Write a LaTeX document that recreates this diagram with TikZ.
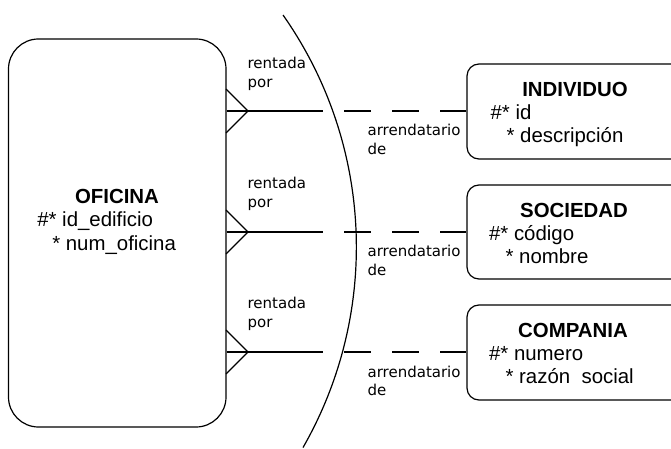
\documentclass[tikz,border=0pt]{standalone}
\usepackage{fontspec}
\newfontfamily\entfont{Liberation Sans}
\newfontfamily\labfont{DejaVu Sans}
\begin{document}
\begin{tikzpicture}[x=1pt,y=-1pt,
  line width=1.2pt,
  entbox/.style={draw, line width=1.2pt, rounded corners=12pt, minimum width=216pt, minimum height=95pt, inner sep=0pt},
  ttl/.style={font=\entfont\bfseries\fontsize{20.4}{24}\selectfont, anchor=base, inner sep=0pt},
  attr/.style={font=\entfont\fontsize{20.4}{24}\selectfont, anchor=base west, inner sep=0pt},
  lab/.style={font=\labfont\fontsize{15}{19}\selectfont, anchor=base west, inner sep=0pt},
  rel/.style={line width=1.2pt},
  reldash/.style={line width=1.2pt, dash pattern=on 27pt off 21pt, dash phase=27pt}]
\useasboundingbox (0,0) rectangle (671,449);
\clip (0,0) rectangle (671,449);
% entities
\node[draw, line width=1.2pt, rounded corners=30pt, minimum width=217.5pt, minimum height=388pt, inner sep=0pt] (ofi) at (117.25,233) {};
\node[entbox] (ind) at (575,111.5) {};
\node[entbox, minimum height=94pt] (soc) at (575,232) {};
\node[entbox] (com) at (575,352.5) {};
% entity texts
\node[ttl] (ofit) at (117,203) {OFICINA};
\node[attr] (ofia) at (36.7,226.5) {\#* id\_edificio};
\node[attr] (ofib) at (51.7,250) {* num\_oficina};
\node[ttl] (indt) at (575,97) {INDIVIDUO};
\node[attr] (inda) at (490,120) {\#* id};
\node[attr] (indb) at (506,142.5) {* descripción};
\node[ttl] (soct) at (574,217) {SOCIEDAD};
\node[attr] (soca) at (488.5,240) {\#* código};
\node[attr] (socb) at (505,263) {* nombre};
\node[ttl] (comt) at (573,337) {COMPANIA};
\node[attr] (coma) at (488.5,360) {\#* numero};
\node[attr] (comb) at (505,383) {* razón\ \ social};
% relationship coordinates
\coordinate (t1) at (248,111);
\coordinate (t2) at (248,232);
\coordinate (t3) at (248,352);
\coordinate (m1) at (323,111);
\coordinate (m2) at (323,232);
\coordinate (m3) at (323,352);
% relationships
\foreach \i/\e in {1/ind,2/soc,3/com}{
  \draw[rel] (ofi.east |- m\i) -- (m\i);
  \draw[reldash] (m\i) -- (\e.west |- m\i);
  \draw[rel] (t\i) -- ++(-22,-22);
  \draw[rel] (t\i) -- ++(-22,22);
}
% labels
\node[lab] (r1a) at (247,68.5) {rentada};
\node[lab] (r1b) at (247,87.5) {por};
\node[lab] (r2a) at (247,188.5) {rentada};
\node[lab] (r2b) at (247,207.5) {por};
\node[lab] (r3a) at (247,308.5) {rentada};
\node[lab] (r3b) at (247,327.5) {por};
\node[lab] (a1a) at (367,135.5) {arrendatario};
\node[lab] (a1b) at (367,154) {de};
\node[lab] (a2a) at (367,256.5) {arrendatario};
\node[lab] (a2b) at (367,275) {de};
\node[lab] (a3a) at (367,377) {arrendatario};
\node[lab] (a3b) at (367,395.5) {de};
% arc
\draw[line width=1.2pt] (283,15) arc[start angle=-35.1, end angle=29.8, radius=403.5];
\end{tikzpicture}
\end{document}
